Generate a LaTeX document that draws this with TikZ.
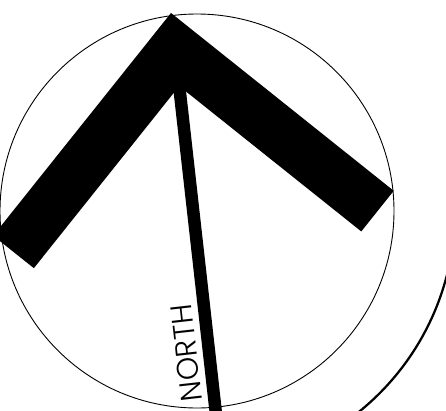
\documentclass[tikz,border=0pt]{standalone}
\usepackage{fontspec}
\usepackage{xcolor}
\usepackage{tikz}
\usetikzlibrary{calc}
\newfontfamily\compassfont{Poppins Light}
\definecolor{tinta}{RGB}{0, 0, 0}

\begin{document}
\begin{tikzpicture}[x=0.02cm, y=0.02cm,
    ring/.style={draw=tinta, line width=0.018cm},
    outerring/.style={draw=tinta, line width=0.045cm},
    chevron/.style={fill=tinta},
    needle/.style={draw=tinta, line width=0.25cm, line cap=butt},
    northtext/.style={font=\compassfont\fontsize{17}{17}\selectfont, text=tinta, inner sep=0pt}
]
    \useasboundingbox (0,0) rectangle (446,410);
    \clip (0,0) rectangle (446,410);

    % Rings
    \coordinate (centre) at (197,199);
    \draw[ring] (centre) circle (197);
    \draw[outerring] ($(centre)+(-5:258)$) arc (-5:-60:258);

    % Chevron
    \coordinate (apex) at (171,397);
    \begin{scope}[shift={(apex)}, rotate=-38.6]
        \fill[chevron] (0,0) -- (285,0) -- (285,-52) -- (52,-52) -- (52,-285) -- (0,-285) -- cycle;
        \coordinate (needletop) at (45,-45);
        \coordinate (needleend) at (330,-330);
        \coordinate (textpos) at (224,-256);
    \end{scope}

    % Needle
    \draw[needle] (needletop) -- (needleend);
    \node[northtext, rotate=96.4] (north) at (textpos) {NORTH};
\end{tikzpicture}
\end{document}
